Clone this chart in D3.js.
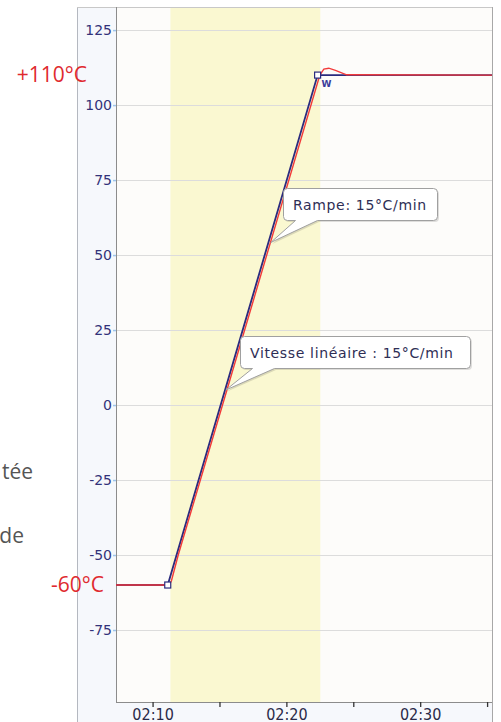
<!DOCTYPE html>
<html>
<head>
<meta charset="utf-8">
<script src="https://cdn.jsdelivr.net/npm/d3@7"></script>
<style>
  html, body { margin: 0; padding: 0; background: #fff; }
  svg { display: block; }
</style>
</head>
<body>
<script>
const parse = d3.timeParse('%H:%M:%S');

// consigne (setpoint), bleu
const setTimes = ['02:07:16', '02:11:08', '02:22:20', '02:35:22'];
const setValues = [-60, -60, 110, 110];

// mesure, rouge
const measTimes = ['02:07:16', '02:11:15', '02:11:25', '02:11:55', '02:22:30', '02:22:48', '02:23:10', '02:23:40', '02:24:30', '02:35:22'];
const measValues = [-60, -60, -58.5, -50, 110, 112, 112.3, 111.6, 110.1, 110];

const band = ['02:11:20', '02:22:32'];
const yTicks = [125, 100, 75, 50, 25, 0, -25, -50, -75];
const xMajor = ['02:10:00', '02:20:00', '02:30:00'];
const xMinor = ['02:15:00', '02:25:00', '02:35:00'];

const notes = [
  { text: 'Rampe: 15°C/min', t: '02:18:50', v: 54.2, dx: 12, dy: -54, w: 154 },
  { text: 'Vitesse linéaire : 15°C/min', t: '02:15:28', v: 5, dx: 14, dy: -54, w: 230 }
];

const sideLabels = [
  { text: '+110°C', v: 110, x: 87 },
  { text: '-60°C', v: -60, x: 104 }
];

const W = 501, H = 722;
const mLeft = 116, mRight = 492, mTop = 7, mBottom = 702;

const svg = d3.select('body').append('svg')
  .attr('width', W)
  .attr('height', H);

const x = d3.scaleTime()
  .domain([parse('02:07:16'), parse('02:35:22')])
  .range([mLeft, mRight]);

const y = d3.scaleLinear()
  .domain([-99, 132.7])
  .range([mBottom, mTop]);

// panels
svg.append('rect').attr('x', 77).attr('y', mTop).attr('width', mLeft - 77).attr('height', H - mTop)
  .attr('fill', '#f6f8fc');
svg.append('rect').attr('x', mLeft).attr('y', mBottom).attr('width', mRight - mLeft).attr('height', H - mBottom)
  .attr('fill', '#f6f8fc');
svg.append('rect').attr('x', mLeft).attr('y', mTop).attr('width', mRight - mLeft).attr('height', mBottom - mTop)
  .attr('fill', '#fdfcfa');

svg.append('rect')
  .attr('x', x(parse(band[0])))
  .attr('y', mTop)
  .attr('width', x(parse(band[1])) - x(parse(band[0])))
  .attr('height', mBottom - mTop)
  .attr('fill', '#faf8d1');

// grid
svg.append('g').selectAll('line').data(yTicks).join('line')
  .attr('x1', mLeft).attr('x2', mRight)
  .attr('y1', d => Math.round(y(d)) + 0.5).attr('y2', d => Math.round(y(d)) + 0.5)
  .attr('stroke', '#dcdcdc');

// borders
svg.append('line').attr('x1', 77.5).attr('x2', 77.5).attr('y1', mTop).attr('y2', H).attr('stroke', '#b4b8c0');
svg.append('line').attr('x1', 77).attr('x2', mRight + 1).attr('y1', mTop + 0.5).attr('y2', mTop + 0.5).attr('stroke', '#c8c8c8');
svg.append('line').attr('x1', mRight + 0.5).attr('x2', mRight + 0.5).attr('y1', mTop).attr('y2', H).attr('stroke', '#a8a8a8');
svg.append('line').attr('x1', mLeft + 0.5).attr('x2', mLeft + 0.5).attr('y1', mTop).attr('y2', mBottom).attr('stroke', '#8c8c8c');
svg.append('line').attr('x1', mLeft).attr('x2', mRight).attr('y1', mBottom + 0.5).attr('y2', mBottom + 0.5).attr('stroke', '#8c8c8c');

// axes
const yAxis = svg.append('g')
  .attr('transform', `translate(${mLeft},0)`)
  .call(d3.axisLeft(y).tickValues(yTicks).tickSize(3).tickPadding(1).tickFormat(d => String(d)));
yAxis.select('.domain').remove();
yAxis.selectAll('line').attr('stroke', '#9fc6ec').attr('stroke-width', 1.5);
yAxis.selectAll('text')
  .attr('fill', '#33337a')
  .style('font-family', 'DejaVu Sans, sans-serif')
  .style('font-size', '14px');

const xAxis = svg.append('g')
  .attr('transform', `translate(0,${mBottom})`)
  .call(d3.axisBottom(x).tickValues(xMajor.map(parse)).tickSize(5)
    .tickFormat(d3.timeFormat('%H:%M')));
xAxis.select('.domain').remove();
xAxis.selectAll('line').attr('stroke', '#333').attr('stroke-width', 1.3);
xAxis.selectAll('text')
  .attr('y', 17.5).attr('dy', null)
  .attr('fill', '#2a2a48')
  .style('font-family', 'DejaVu Sans Condensed, DejaVu Sans, sans-serif')
  .style('font-size', '16px');

const xAxisMinor = svg.append('g')
  .attr('transform', `translate(0,${mBottom})`)
  .call(d3.axisBottom(x).tickValues(xMinor.map(parse)).tickSize(5).tickFormat(''));
xAxisMinor.select('.domain').remove();
xAxisMinor.selectAll('line').attr('stroke', '#333').attr('stroke-width', 1.3);

// lines
const line = d3.line().x(d => x(d[0])).y(d => y(d[1]));
const setData = setTimes.map((t, i) => [parse(t), setValues[i]]);
const measData = measTimes.map((t, i) => [parse(t), measValues[i]]);

svg.append('path').datum(setData)
  .attr('d', line).attr('fill', 'none')
  .attr('stroke', '#2b2b7e').attr('stroke-width', 1.8);

svg.append('path').datum(measData)
  .attr('d', line).attr('fill', 'none')
  .attr('stroke', '#f23a3a').attr('stroke-width', 1.4);

svg.append('g').selectAll('rect').data(setData.slice(1, 3)).join('rect')
  .attr('x', d => x(d[0]) - 3).attr('y', d => y(d[1]) - 3)
  .attr('width', 6).attr('height', 6)
  .attr('fill', '#fff').attr('stroke', '#2b2b7e').attr('stroke-width', 1.2);

svg.append('text')
  .attr('x', x(setData[2][0]) + 4).attr('y', y(setData[2][1]) + 12)
  .attr('fill', '#3a3a9a')
  .style('font-family', 'DejaVu Sans, sans-serif').style('font-size', '9px').style('font-weight', 'bold')
  .text('W');

// callouts
notes.forEach(n => {
  const tx = x(parse(n.t)), ty = y(n.v);
  const bx = Math.round(tx + n.dx) + 0.5, by = Math.round(ty + n.dy) + 0.5;
  const w = n.w, h = 32, r = 4;
  const p = d3.path();
  p.moveTo(bx + r, by);
  p.lineTo(bx + w - r, by);
  p.arcTo(bx + w, by, bx + w, by + r, r);
  p.lineTo(bx + w, by + h - r);
  p.arcTo(bx + w, by + h, bx + w - r, by + h, r);
  p.lineTo(bx + 34, by + h);
  p.lineTo(tx, ty);
  p.lineTo(bx + 12, by + h);
  p.lineTo(bx + r, by + h);
  p.arcTo(bx, by + h, bx, by + h - r, r);
  p.lineTo(bx, by + r);
  p.arcTo(bx, by, bx + r, by, r);
  p.closePath();
  svg.append('path').attr('d', p.toString())
    .attr('transform', 'translate(1.5,1.5)')
    .attr('fill', '#000').attr('opacity', 0.12);
  svg.append('path').attr('d', p.toString())
    .attr('fill', '#fff').attr('stroke', '#a0a0a0').attr('stroke-width', 1);
  svg.append('text')
    .attr('x', bx + 9.5).attr('y', by + 21)
    .attr('fill', '#2e2e55')
    .style('font-family', 'DejaVu Sans, sans-serif').style('font-size', '14px')
    .style('letter-spacing', '0.65px')
    .text(n.text);
});

// side labels (from the surrounding page)
svg.append('g').selectAll('text').data(sideLabels).join('text')
  .attr('x', d => d.x).attr('y', d => y(d.v) + 7)
  .attr('text-anchor', 'end')
  .attr('fill', '#e02a2e')
  .style('font-family', 'Open Sans, sans-serif').style('font-size', '21px')
  .text(d => d.text);

svg.append('text').attr('x', 33).attr('y', 479).attr('text-anchor', 'end')
  .attr('fill', '#555').style('font-family', 'Open Sans, sans-serif').style('font-size', '21px')
  .text('tée');
svg.append('text').attr('x', 24).attr('y', 543).attr('text-anchor', 'end')
  .attr('fill', '#555').style('font-family', 'Open Sans, sans-serif').style('font-size', '21px')
  .text('de');
</script>
</body>
</html>
